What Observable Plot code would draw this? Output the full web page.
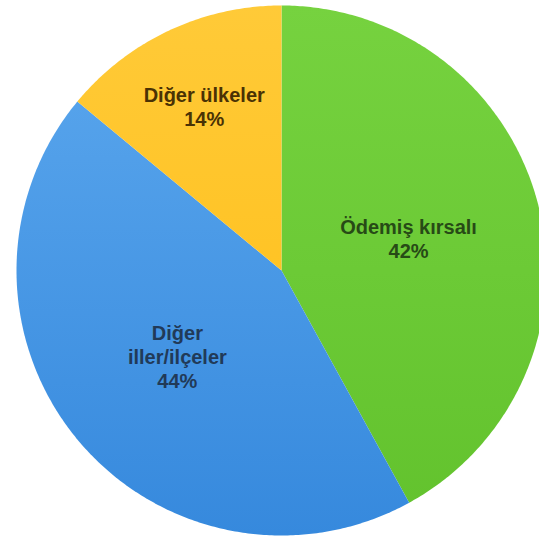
<!DOCTYPE html>
<html>
<head>
<meta charset="utf-8">
<script src="https://cdn.jsdelivr.net/npm/d3@7"></script>
<script src="https://cdn.jsdelivr.net/npm/@observablehq/plot@0.6"></script>
<style>
  html, body { margin: 0; padding: 0; background: #fff; }
  #chart svg { display: block; }
</style>
</head>
<body>
<div id="chart"></div>
<script>
// Data
const categories = ["Ödemiş kırsalı", "Diğer iller/ilçeler", "Diğer ülkeler"];
const labelTexts = ["Ödemiş kırsalı", "Diğer\niller/ilçeler", "Diğer ülkeler"];
const values = [42, 44, 14];

// Styling (not data)
const gradients = [
  ["#76d23f", "#62c22d"],
  ["#5ca8ee", "#3689dd"],
  ["#ffca38", "#ffbd12"]
];
const textColors = ["#274a16", "#213a58", "#4a3204"];
const labelRadius = [0.495, 0.51, 0.685];

const W = 539, H = 541;
const cx = 281, cy = 270, R = 265;

const pie = d3.pie().sort(null).startAngle(0).endAngle(2 * Math.PI)(values);

const polyPoints = [];
pie.forEach((p, i) => {
  polyPoints.push({ slice: i, x: 0, y: 0 });
  const n = Math.max(8, Math.ceil((p.endAngle - p.startAngle) / 0.01));
  for (let k = 0; k <= n; k++) {
    const a = p.startAngle + (p.endAngle - p.startAngle) * k / n;
    polyPoints.push({ slice: i, x: Math.sin(a), y: Math.cos(a) });
  }
});

const labels = pie.map((p, i) => {
  const a = (p.startAngle + p.endAngle) / 2;
  const r = labelRadius[i];
  return {
    text: labelTexts[i] + "\n" + Math.round(p.value / d3.sum(values) * 100) + "%",
    x: Math.sin(a) * r,
    y: Math.cos(a) * r,
    color: textColors[i]
  };
});

const marks = pie.map((p, i) =>
  Plot.line(polyPoints.filter(d => d.slice === i), {
    x: "x", y: "y", curve: "linear-closed",
    fill: `url(#grad${i})`, stroke: "none"
  })
);
labels.forEach(l => {
  marks.push(Plot.text([l], {
    x: "x", y: "y", text: "text", fill: l.color,
    fontSize: 20, fontWeight: "bold", lineHeight: 1.2,
    fontFamily: "Liberation Sans, Arial, sans-serif"
  }));
});

const chart = Plot.plot({
  width: W, height: H,
  margin: 0,
  x: { domain: [-cx / R, (W - cx) / R], axis: null },
  y: { domain: [-(H - cy) / R, cy / R], axis: null },
  style: { background: "#fff" },
  marks
});

const svg = d3.select(chart);
const defs = svg.insert("defs", ":first-child");
gradients.forEach((g, i) => {
  const lg = defs.append("linearGradient")
    .attr("id", `grad${i}`)
    .attr("gradientUnits", "userSpaceOnUse")
    .attr("x1", 0).attr("y1", cy - R).attr("x2", 0).attr("y2", cy + R);
  lg.append("stop").attr("offset", "0%").attr("stop-color", g[0]);
  lg.append("stop").attr("offset", "100%").attr("stop-color", g[1]);
});

document.getElementById("chart").appendChild(chart);
</script>
</body>
</html>
